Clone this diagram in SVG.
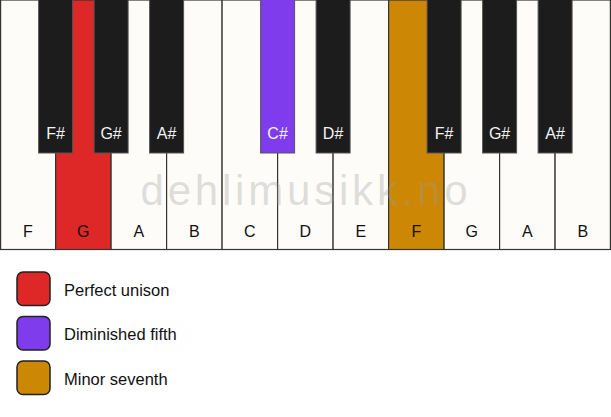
<svg xmlns="http://www.w3.org/2000/svg" width="611" height="417" viewBox="0 0 611 417">
<style>
.w{fill:#fdfcf8;stroke:#333;stroke-width:1.2}
.b{fill:#1c1c1c;stroke:#555;stroke-width:1}
.wl{font-family:"Liberation Sans",Arial,sans-serif;font-size:16px;fill:#111;text-anchor:middle}
.bl{font-family:"Liberation Sans",Arial,sans-serif;font-size:16px;fill:#f4f4f4;text-anchor:middle}
.lg{stroke:#222;stroke-width:1.5}
.lt{font-family:"Liberation Sans",Arial,sans-serif;font-size:16.5px;fill:#111}
</style>
<rect x="0" y="0" width="611" height="417" fill="#ffffff"/>
<g id="white-keys">
<g id="w-F1"><rect class="w" x="0.6" y="0" width="55" height="249.5"/><text class="wl" x="27.8" y="236.5">F</text></g>
<g id="w-G1"><rect class="w" x="55.6" y="0" width="55.5" height="249.5" style="fill:#de2828"/><text class="wl" x="83.3" y="236.5">G</text></g>
<g id="w-A1"><rect class="w" x="111.1" y="0" width="55.5" height="249.5"/><text class="wl" x="138.8" y="236.5">A</text></g>
<g id="w-B1"><rect class="w" x="166.6" y="0" width="55.5" height="249.5"/><text class="wl" x="194.3" y="236.5">B</text></g>
<g id="w-C"><rect class="w" x="222.1" y="0" width="55.5" height="249.5"/><text class="wl" x="249.8" y="236.5">C</text></g>
<g id="w-D"><rect class="w" x="277.6" y="0" width="55.5" height="249.5"/><text class="wl" x="305.3" y="236.5">D</text></g>
<g id="w-E"><rect class="w" x="333.1" y="0" width="55.5" height="249.5"/><text class="wl" x="360.8" y="236.5">E</text></g>
<g id="w-F2"><rect class="w" x="388.6" y="0" width="55.5" height="249.5" style="fill:#cc8804"/><text class="wl" x="416.3" y="236.5">F</text></g>
<g id="w-G2"><rect class="w" x="444.1" y="0" width="55.5" height="249.5"/><text class="wl" x="471.8" y="236.5">G</text></g>
<g id="w-A2"><rect class="w" x="499.6" y="0" width="55.5" height="249.5"/><text class="wl" x="527.3" y="236.5">A</text></g>
<g id="w-B2"><rect class="w" x="555.1" y="0" width="55.3" height="249.5"/><text class="wl" x="582.8" y="236.5">B</text></g>
</g>
<text x="306" y="205" font-family="'Liberation Sans',Arial,sans-serif" font-size="42" letter-spacing="3.8" text-anchor="middle" fill="#999999" fill-opacity="0.33">dehlimusikk.no</text>
<g id="black-keys">
<g id="b-Fs1"><rect class="b" x="38.6" y="-1" width="34" height="154"/><text class="bl" x="55.6" y="139.3">F#</text></g>
<g id="b-Gs1"><rect class="b" x="94.1" y="-1" width="34" height="154"/><text class="bl" x="111.1" y="139.3">G#</text></g>
<g id="b-As1"><rect class="b" x="149.6" y="-1" width="34" height="154"/><text class="bl" x="166.6" y="139.3">A#</text></g>
<g id="b-Cs"><rect class="b" x="260.6" y="-1" width="34" height="154" style="fill:#7e3cec"/><text class="bl" x="277.6" y="139.3">C#</text></g>
<g id="b-Ds"><rect class="b" x="316.1" y="-1" width="34" height="154"/><text class="bl" x="333.1" y="139.3">D#</text></g>
<g id="b-Fs2"><rect class="b" x="427.1" y="-1" width="34" height="154"/><text class="bl" x="444.1" y="139.3">F#</text></g>
<g id="b-Gs2"><rect class="b" x="482.6" y="-1" width="34" height="154"/><text class="bl" x="499.6" y="139.3">G#</text></g>
<g id="b-As2"><rect class="b" x="538.1" y="-1" width="34" height="154"/><text class="bl" x="555.1" y="139.3">A#</text></g>
</g>
<g id="legend">
<g id="lg-unison"><rect class="lg" x="17" y="272" width="33" height="33.5" rx="6" fill="#de2828"/><text class="lt" x="64" y="296">Perfect unison</text></g>
<g id="lg-dim5"><rect class="lg" x="17" y="316.5" width="33" height="33.5" rx="6" fill="#7e3cec"/><text class="lt" x="64" y="340">Diminished fifth</text></g>
<g id="lg-min7"><rect class="lg" x="17" y="361" width="33" height="33.5" rx="6" fill="#cc8804"/><text class="lt" x="64" y="384.5">Minor seventh</text></g>
</g>
</svg>
